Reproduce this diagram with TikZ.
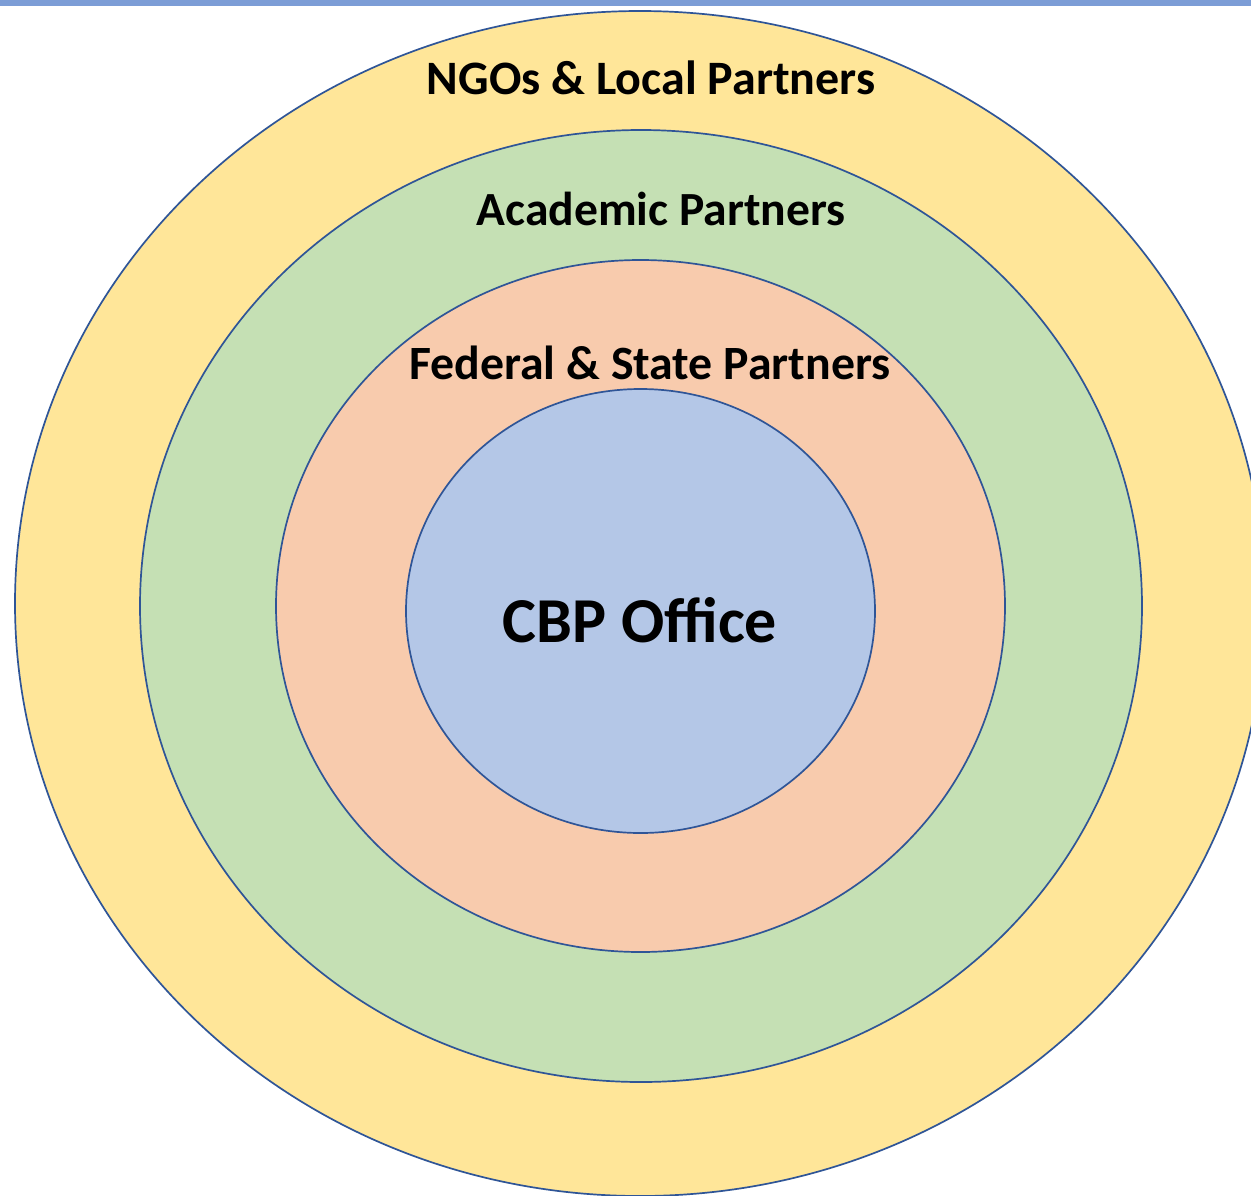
\documentclass[tikz,border=0pt]{standalone}
\usepackage{fontspec}
\setmainfont{Carlito}
\usetikzlibrary{shapes.geometric}
\definecolor{ringY}{HTML}{FFE699}
\definecolor{ringG}{HTML}{C5E0B4}
\definecolor{ringO}{HTML}{F8CBAD}
\definecolor{ringB}{HTML}{B4C7E7}
\definecolor{edgeC}{HTML}{2F5597}
\definecolor{barC}{HTML}{7C9DD6}
\tikzset{
  ring/.style={ellipse, draw=edgeC, line width=1.7pt, inner sep=0pt},
  lbl/.style={anchor=base, text=black, inner sep=0pt}
}
\begin{document}
\begin{tikzpicture}[x=1pt,y=-1pt]
\useasboundingbox (0,0) rectangle (1251,1195);
\clip (0,0) rectangle (1251,1195);
\fill[white] (0,0) rectangle (1251,1195);
\node[ring, fill=ringY, minimum width=1250pt, minimum height=1185pt] (ngo) at (640,603.5) {};
\node[ring, fill=ringG, minimum width=1002pt, minimum height=952pt] (acad) at (641,606) {};
\node[ring, fill=ringO, minimum width=729pt, minimum height=692pt] (fed) at (640.5,606) {};
\node[ring, fill=ringB, minimum width=469pt, minimum height=444pt] (cbp) at (640.5,611) {};
\fill[barC] (0,0) rectangle (1251,6);
\node[lbl, font=\bfseries\fontsize{48}{52}\selectfont] (tngo) at (651,94) {NGOs \& Local Partners};
\node[lbl, font=\bfseries\fontsize{47.6}{52}\selectfont] (tacad) at (661,225) {Academic Partners};
\node[lbl, font=\bfseries\fontsize{47.8}{52}\selectfont] (tfed) at (650,379) {Federal \& State Partners};
\node[lbl, font=\bfseries\fontsize{64}{70}\selectfont] (tcbp) at (640,642) {CBP Office};
\end{tikzpicture}
\end{document}
